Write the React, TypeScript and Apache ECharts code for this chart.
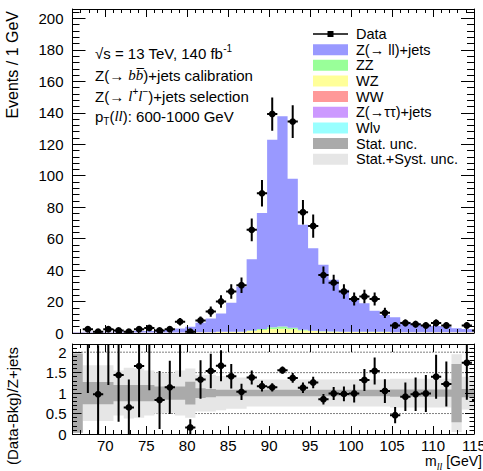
import React, { useEffect, useRef } from 'react';
import * as echarts from 'echarts';

// ---- binning (GeV) ----
const binEdges = [
  66, 67.25, 68.5, 69.75, 71, 72.25, 73.5, 74.75, 76, 77.25, 78.5, 79.75, 81, 82.25,
  83.5, 84.75, 86, 87.25, 88.5, 89.75, 91, 92.25, 93.5, 94.75, 96, 97.25, 98.5, 99.75,
  101, 102.25, 103.5, 104.75, 106, 107.25, 108.5, 109.75, 111, 112.25, 113.5, 114.75, 116,
];

// ---- events / 1 GeV ----
const dataValues = [
  0, 2.4, 0.8, 2.4, 1.6, 0.8, 2.4, 3.2, 1.6, 2.4, 7.2, 0.8, 8.0, 13.6, 20.0, 26.4, 30.4, 65.6,
  88.8, 139.2, 220.0, 134.4, 76.8, 68.0, 36.8, 32.0, 26.4, 21.6, 23.2, 21.6, 12.8, 4.8, 6.4,
  5.6, 4.8, 6.4, 4.8, 0, 4.8, 1.6,
];
const dataErrors = [
  0, 1.39, 0.8, 1.39, 1.13, 0.8, 1.39, 1.6, 1.13, 1.39, 2.4, 0.8, 2.53, 3.3, 4.0, 4.6, 4.93,
  7.24, 8.43, 10.55, 13.27, 10.37, 7.84, 7.38, 5.43, 5.06, 4.6, 4.16, 4.31, 4.16, 3.2, 1.96,
  2.26, 2.12, 1.96, 2.26, 1.96, 0, 1.96, 1.13,
];
const zjets = [
  0.3, 0.5, 0.4, 0.5, 0.7, 0.8, 1.0, 1.0, 1.4, 1.8, 2.5, 3.5, 6.1, 8.8, 11.7, 18.5, 28.6, 45.3,
  73.7, 119.2, 133.7, 94.8, 66.7, 52.5, 42.2, 32.9, 26.6, 21.4, 18.2, 13.5, 10.8, 9.5, 6.7, 5.7,
  4.6, 4.0, 3.5, 2.5, 2.0, 1.4,
];
const zz = [
  0.05, 0.05, 0.05, 0.05, 0.05, 0.05, 0.05, 0.05, 0.05, 0.05, 0.05, 0.05, 0.05, 0.05, 0.05,
  0.05, 0.05, 0.3, 0.6, 1.2, 1.4, 1.0, 0.5, 0.2, 0.1, 0.1, 0.1, 0.1, 0.1, 0.1, 0.1, 0.1, 0.1,
  0.1, 0.1, 0.1, 0.1, 0.1, 0.1, 0.1,
];
const wz = [
  0.15, 0.15, 0.15, 0.15, 0.15, 0.15, 0.15, 0.15, 0.15, 0.15, 0.15, 0.3, 0.3, 0.3, 0.6, 0.6,
  0.7, 1.2, 1.8, 2.4, 2.6, 2.2, 1.5, 1.1, 0.9, 0.7, 0.6, 0.5, 0.5, 0.5, 0.5, 0.3, 0.3, 0.3,
  0.3, 0.3, 0.3, 0.3, 0.3, 0.3,
];
const ww = [
  0.05, 0.05, 0.05, 0.05, 0.05, 0.05, 0.05, 0.05, 0.05, 0.05, 0.05, 0.05, 0.05, 0.05, 0.05,
  0.05, 0.05, 0.05, 0.05, 0.05, 0.05, 0.05, 0.05, 0.05, 0.05, 0.05, 0.05, 0.05, 0.05, 0.05,
  0.05, 0.05, 0.05, 0.05, 0.05, 0.05, 0.05, 0.05, 0.05, 0.05,
];
const ztautau = [
  0.05, 0.05, 0.05, 0.05, 0.05, 0.05, 0.05, 0.05, 0.05, 0.05, 0.05, 0.05, 0.05, 0.05, 0.05,
  0.05, 0.05, 0.05, 0.05, 0.05, 0.05, 0.05, 0.05, 0.05, 0.05, 0.05, 0.05, 0.05, 0.05, 0.05,
  0.05, 0.05, 0.05, 0.05, 0.05, 0.05, 0.05, 0.05, 0.05, 0.05,
];
const wlnu = [
  0.02, 0.02, 0.02, 0.02, 0.02, 0.02, 0.02, 0.02, 0.02, 0.02, 0.02, 0.02, 0.02, 0.02, 0.02,
  0.02, 0.02, 0.02, 0.02, 0.02, 0.02, 0.02, 0.02, 0.02, 0.02, 0.02, 0.02, 0.02, 0.02, 0.02,
  0.02, 0.02, 0.02, 0.02, 0.02, 0.02, 0.02, 0.02, 0.02, 0.02,
];

// ---- (Data-Bkg)/Z+jets ----
const ratioValues = [
  null, 3.0, 0.97, 3.2, 1.44, 0.65, 1.66, 2.5, 0.83, 1.14, 2.45, 0.16, 1.33, 1.54, 1.67, 1.41,
  1.03, 1.38, 1.17, 1.14, 1.56, 1.37, 1.13, 1.26, 0.85, 0.99, 0.98, 0.99, 1.32, 1.54, 1.05,
  0.46, 0.91, 0.97, 0.99, 1.4, 1.22, null, 1.74, 0.83,
];
const ratioErrors = [
  null, 2.0, 1.2, 2.0, 1.14, 0.68, 1.25, 1.43, 0.71, 0.65, 1.05, 0.2, 0.47, 0.42, 0.38, 0.3,
  0.2, 0.17, 0.13, 0.1, 0.09, 0.12, 0.13, 0.14, 0.13, 0.16, 0.18, 0.22, 0.27, 0.33, 0.29, 0.2,
  0.35, 0.41, 0.45, 0.54, 0.55, null, 0.9, 0.3,
];
const statUnc = [
  0.97, 0.27, 0.27, 0.27, 0.2, 0.2, 0.2, 0.2, 0.16, 0.16, 0.16, 0.28, 0.12, 0.1, 0.08, 0.08,
  0.08, 0.08, 0.08, 0.08, 0.08, 0.08, 0.08, 0.08, 0.08, 0.08, 0.08, 0.08, 0.08, 0.08, 0.08,
  0.09, 0.09, 0.09, 0.09, 0.09, 0.09, 0.71, 0.1, 0.12,
];
const totalUnc = [
  0.97, 0.68, 0.68, 0.68, 0.55, 0.62, 0.6, 0.55, 0.5, 0.48, 0.55, 0.6, 0.45, 0.45, 0.42, 0.38,
  0.38, 0.33, 0.33, 0.33, 0.33, 0.33, 0.33, 0.33, 0.33, 0.33, 0.33, 0.33, 0.33, 0.33, 0.33,
  0.35, 0.35, 0.35, 0.35, 0.35, 0.35, 0.95, 0.4, 0.42,
];

// ---- axes ----
const xMajorTicks = [70, 75, 80, 85, 90, 95, 100, 105, 110, 115];
const ratioGridLines = [0.5, 1, 1.5, 2];

const legendLabels = [
  'Data', 'Z(→ ll)+jets', 'ZZ', 'WZ', 'WW', 'Z(→ττ)+jets', 'Wlν', 'Stat. unc.', 'Stat.+Syst. unc.',
];

const SANS = 'Liberation Sans, Arial, Helvetica, sans-serif';
const SERIF = 'Liberation Serif, Times New Roman, serif';
const C = {
  z: '#9999ff', zz: '#99ff99', wz: '#ffff99', ww: '#ff9999', tt: '#cc99ff', wlnu: '#99ffff',
  stat: '#aaaaaa', tot: '#e6e6e6',
};
const legendColors = [null, C.z, C.zz, C.wz, C.ww, C.tt, C.wlnu, C.stat, C.tot];

const black = { color: '#000', width: 1 };

function xAxes(gridIndex: number, showLabels: boolean, majorLen: number, minorLen: number) {
  const base = { gridIndex, type: 'value', min: 66, max: 115, z: 10, splitLine: { show: false } };
  const line = { show: true, onZero: false, lineStyle: black };
  const noLine = { show: false, onZero: false };
  const major = { show: true, inside: true, length: majorLen, customValues: xMajorTicks, lineStyle: black };
  const minor = { show: true, inside: true, length: minorLen, lineStyle: black };
  return [
    {
      ...base, position: 'bottom', axisLine: line, axisTick: major,
      axisLabel: {
        show: showLabels, customValues: xMajorTicks, margin: 4, color: '#000', fontSize: 15,
        fontFamily: SANS,
      },
    },
    { ...base, position: 'bottom', interval: 1, axisLine: noLine, axisTick: minor, axisLabel: { show: false } },
    { ...base, position: 'top', axisLine: line, axisTick: major, axisLabel: { show: false, customValues: xMajorTicks } },
    { ...base, position: 'top', interval: 1, axisLine: noLine, axisTick: minor, axisLabel: { show: false } },
  ];
}

function yAxes(
  gridIndex: number, max: number, majorStep: number, minorStep: number,
  majorLen: number, minorLen: number, labelMargin: number,
) {
  const base = { gridIndex, type: 'value', min: 0, max, z: 10, splitLine: { show: false } };
  const line = { show: true, onZero: false, lineStyle: black };
  const noLine = { show: false, onZero: false };
  const major = { show: true, inside: true, length: majorLen, lineStyle: black };
  const minor = { show: true, inside: true, length: minorLen, lineStyle: black };
  return [
    {
      ...base, position: 'left', interval: majorStep, axisLine: line, axisTick: major,
      axisLabel: {
        show: true, margin: labelMargin, color: '#000', fontSize: 15, fontFamily: SANS,
        showMinLabel: true, showMaxLabel: false,
      },
    },
    { ...base, position: 'left', interval: minorStep, axisLine: noLine, axisTick: minor, axisLabel: { show: false } },
    { ...base, position: 'right', interval: majorStep, axisLine: line, axisTick: major, axisLabel: { show: false } },
    { ...base, position: 'right', interval: minorStep, axisLine: noLine, axisTick: minor, axisLabel: { show: false } },
  ];
}

function clipTo(params: any) {
  const cs = params.coordSys;
  return { type: 'rect', shape: { x: cs.x, y: cs.y, width: cs.width, height: cs.height } };
}

// Filled step band, drawn as one polygon so neighbouring bins have no seams.
// item = [lowEdge, highEdge, bottom, top]
function histLayer(name: string, items: number[][], color: string, xi: number, yi: number) {
  return {
    type: 'custom', name, xAxisIndex: xi, yAxisIndex: yi, silent: true,
    data: items,
    renderItem: (params: any, api: any) => {
      if (params.dataIndex !== 0) return null;
      const upper: number[][] = [];
      const lower: number[][] = [];
      items.forEach((it) => {
        upper.push(api.coord([it[0], it[3]]), api.coord([it[1], it[3]]));
        lower.push(api.coord([it[0], it[2]]), api.coord([it[1], it[2]]));
      });
      return {
        type: 'group', clipPath: clipTo(params),
        children: [{
          type: 'polygon',
          shape: { points: upper.concat(lower.reverse()) },
          style: { fill: color },
        }],
      };
    },
  };
}

// points with error bars: item = [lowEdge, highEdge, value, error]
function pointSeries(name: string, items: number[][], xi: number, yi: number) {
  return {
    type: 'custom', name, xAxisIndex: xi, yAxisIndex: yi, silent: true,
    data: items,
    renderItem: (params: any, api: any) => {
      const lo = api.value(0), hi = api.value(1), v = api.value(2), e = api.value(3);
      const xc = (lo + hi) / 2;
      const pc = api.coord([xc, v]);
      const pl = api.coord([lo, v]);
      const pr = api.coord([hi, v]);
      const pt = api.coord([xc, v + e]);
      const pb = api.coord([xc, v - e]);
      const st = { stroke: '#000', lineWidth: 2 };
      return {
        type: 'group', clipPath: clipTo(params),
        children: [
          { type: 'line', shape: { x1: pt[0], y1: pt[1], x2: pb[0], y2: pb[1] }, style: st },
          { type: 'line', shape: { x1: pl[0], y1: pc[1], x2: pr[0], y2: pc[1] }, style: st },
          { type: 'circle', shape: { cx: pc[0], cy: pc[1], r: 3.4 }, style: { fill: '#000' } },
        ],
      };
    },
  };
}

function buildOption() {
  const nBins = dataValues.length;

  // stacked MC, bottom to top
  const layers = [
    { name: 'Wlν', values: wlnu, color: C.wlnu },
    { name: 'Z(→ττ)+jets', values: ztautau, color: C.tt },
    { name: 'WW', values: ww, color: C.ww },
    { name: 'WZ', values: wz, color: C.wz },
    { name: 'ZZ', values: zz, color: C.zz },
    { name: 'Z(→ ll)+jets', values: zjets, color: C.z },
  ];
  const base = binEdges.slice(0, nBins).map(() => 0);
  const stackSeries = layers.map((l) => {
    const items: number[][] = [];
    for (let i = 0; i < nBins; i++) {
      items.push([binEdges[i], binEdges[i + 1], base[i], base[i] + l.values[i]]);
      base[i] += l.values[i];
    }
    return histLayer(l.name, items, l.color, 0, 0);
  });

  const dataItems: number[][] = [];
  for (let i = 0; i < nBins; i++) {
    if (dataValues[i] > 0) dataItems.push([binEdges[i], binEdges[i + 1], dataValues[i], dataErrors[i]]);
  }

  const ratioItems: number[][] = [];
  const totItems: number[][] = [];
  const statItems: number[][] = [];
  for (let i = 0; i < nBins; i++) {
    const r = ratioValues[i];
    const re = ratioErrors[i];
    if (r !== null && re !== null) ratioItems.push([binEdges[i], binEdges[i + 1], r, re]);
    totItems.push([binEdges[i], binEdges[i + 1], 1 - totalUnc[i], 1 + totalUnc[i]]);
    statItems.push([binEdges[i], binEdges[i + 1], 1 - statUnc[i], 1 + statUnc[i]]);
  }

  const dottedLines = {
    type: 'custom', name: 'ratio grid', xAxisIndex: 4, yAxisIndex: 4, silent: true,
    data: ratioGridLines.map((v) => [66, 115, v]),
    renderItem: (params: any, api: any) => {
      const a = api.coord([api.value(0), api.value(2)]);
      const b = api.coord([api.value(1), api.value(2)]);
      return {
        type: 'line', shape: { x1: a[0], y1: a[1], x2: b[0], y2: b[1] },
        style: { stroke: '#000', lineWidth: 1, lineDash: [1, 2] },
      };
    },
  };

  // legend
  const legendX = 313;
  const legendTop = 34;
  const legendStep = 15.65;
  const legendEls: any[] = [];
  legendLabels.forEach((label, i) => {
    const y = legendTop + i * legendStep;
    const col = legendColors[i];
    if (col === null) {
      legendEls.push({ type: 'line', shape: { x1: legendX, y1: y, x2: legendX + 35, y2: y }, style: { stroke: '#000', lineWidth: 1.5 } });
      legendEls.push({ type: 'rect', shape: { x: legendX + 14.5, y: y - 3, width: 6, height: 6 }, style: { fill: '#000' } });
    } else {
      legendEls.push({ type: 'rect', shape: { x: legendX, y: y - 5.5, width: 35, height: 11 }, style: { fill: col } });
    }
    legendEls.push({
      type: 'text', x: legendX + 43, y,
      style: {
        text: label, fontSize: 14.5, fontFamily: SANS, fill: '#000',
        align: 'left', verticalAlign: 'middle', textAlign: 'left', textVerticalAlign: 'middle',
      },
    });
  });

  const rich = {
    it: { fontFamily: SERIF, fontStyle: 'italic', fontSize: 15, lineHeight: 20 },
    sup: { fontFamily: SANS, fontSize: 10, lineHeight: 10, verticalAlign: 'top' },
    sub: { fontFamily: SANS, fontSize: 10, lineHeight: 10, verticalAlign: 'bottom' },
    subit: { fontFamily: SERIF, fontStyle: 'italic', fontSize: 10, lineHeight: 10, verticalAlign: 'bottom' },
  };
  const annot = (text: string, y: number) => ({
    type: 'text', x: 95, y,
    style: {
      text, rich, fontSize: 15, lineHeight: 20, fontFamily: SANS, fill: '#000',
      align: 'left', verticalAlign: 'middle', textAlign: 'left', textVerticalAlign: 'middle',
    },
  });

  return {
    animation: false,
    backgroundColor: '#fff',
    grid: [
      { left: 72.5, top: 9, width: 401.5, height: 324, containLabel: false, outerBoundsMode: 'none' },
      { left: 72.5, top: 344, width: 401.5, height: 90, containLabel: false, outerBoundsMode: 'none' },
    ],
    xAxis: [...xAxes(0, false, 8, 4), ...xAxes(1, true, 8, 4)],
    yAxis: [...yAxes(0, 206, 20, 4, 13, 7, 9), ...yAxes(1, 2.2, 0.5, 0.1, 9, 4.5, 6)],
    series: [
      ...stackSeries,
      pointSeries('Data', dataItems, 0, 0),
      dottedLines,
      histLayer('Stat.+Syst. unc.', totItems, C.tot, 4, 4),
      histLayer('Stat. unc.', statItems, C.stat, 4, 4),
      pointSeries('(Data-Bkg)/Z+jets', ratioItems, 4, 4),
    ],
    graphic: [
      {
        type: 'text', x: 12, y: 11, rotation: Math.PI / 2,
        style: {
          text: 'Events / 1 GeV', fontSize: 16, fontFamily: SANS, fill: '#000',
          align: 'right', verticalAlign: 'middle', textAlign: 'right', textVerticalAlign: 'middle',
        },
      },
      {
        type: 'text', x: 12, y: 406, rotation: Math.PI / 2,
        style: {
          text: '(Data-Bkg)/Z+jets', fontSize: 15, fontFamily: SANS, fill: '#000',
          align: 'center', verticalAlign: 'middle', textAlign: 'center', textVerticalAlign: 'middle',
        },
      },
      {
        type: 'text', x: 482, y: 461,
        style: {
          text: 'm{subit|ll} [GeV]', rich, fontSize: 14, lineHeight: 20, fontFamily: SANS, fill: '#000',
          align: 'right', verticalAlign: 'middle', textAlign: 'right', textVerticalAlign: 'middle',
        },
      },
      annot('√s = 13 TeV, 140 fb{sup|-1}', 53),
      annot('Z(→ {it|bb\u0305})+jets calibration', 75),
      annot('Z(→ {it|l}{sup|+}{it|l}{sup|−})+jets selection', 96),
      annot('p{sub|T}({it|ll}): 600-1000 GeV', 116),
      ...legendEls,
    ],
  };
}

export default function App() {
  const ref = useRef<HTMLDivElement>(null);
  useEffect(() => {
    const chart = echarts.init(ref.current as HTMLDivElement, null, { renderer: 'svg' });
    chart.setOption(buildOption() as any);
    return () => chart.dispose();
  }, []);
  return (
    <div
      ref={ref}
      style={{ position: 'fixed', left: 0, top: 0, width: 483, height: 471, background: '#fff' }}
    />
  );
}
